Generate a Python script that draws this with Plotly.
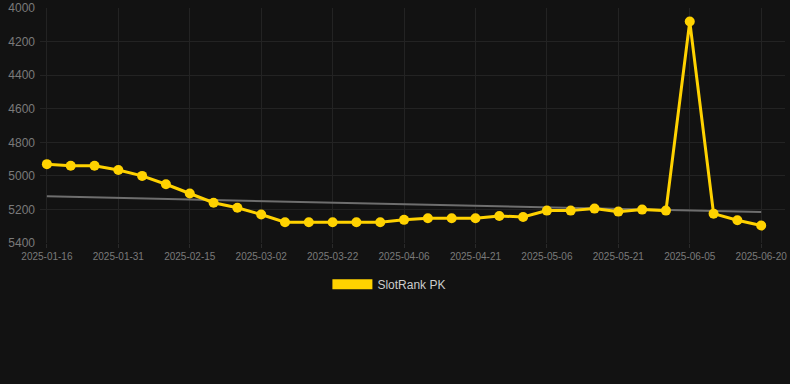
import plotly.graph_objects as go

dates = ["2025-01-16", "2025-01-21", "2025-01-26", "2025-01-31", "2025-02-05", "2025-02-10",
         "2025-02-15", "2025-02-20", "2025-02-25", "2025-03-02", "2025-03-07", "2025-03-12",
         "2025-03-22", "2025-03-27", "2025-04-01", "2025-04-06", "2025-04-11", "2025-04-16",
         "2025-04-21", "2025-04-26", "2025-05-01", "2025-05-06", "2025-05-11", "2025-05-16",
         "2025-05-21", "2025-05-26", "2025-05-31", "2025-06-05", "2025-06-10", "2025-06-15",
         "2025-06-20"]
rank = [4930, 4940, 4940, 4965, 5000, 5050, 5105, 5160, 5190, 5230, 5276, 5276,
        5276, 5276, 5276, 5262, 5252, 5252, 5252, 5239, 5245, 5207, 5207, 5195,
        5213, 5201, 5207, 4080, 5225, 5264, 5296]
trend_dates = [dates[0], dates[-1]]
trend_vals = [5122, 5215]
tick_labels = dates[::3]
y_ticks = [4000, 4200, 4400, 4600, 4800, 5000, 5200, 5400]
series_name = "SlotRank PK"

gold = "#FFD200"
bg = "#121212"
grid = "#232323"

fig = go.Figure()
fig.add_trace(go.Scatter(x=trend_dates, y=trend_vals, mode="lines",
                         line=dict(color="#6e6e6e", width=2), showlegend=False, hoverinfo="skip"))
fig.add_trace(go.Scatter(x=dates, y=rank, mode="lines+markers",
                         line=dict(color=gold, width=3),
                         marker=dict(color=gold, size=10),
                         showlegend=False, name=series_name))
fig.add_trace(go.Scatter(x=[None], y=[None], mode="lines", name=series_name,
                         line=dict(color=gold, width=12), showlegend=True))

fig.update_layout(
    width=790, height=384,
    margin=dict(l=40, r=5, t=8, b=141, autoexpand=False),
    paper_bgcolor=bg, plot_bgcolor=bg,
    font=dict(family="Liberation Sans, Arial, sans-serif", color="#7a7a7a"),
    showlegend=True,
    legend=dict(orientation="h", x=0.469, xanchor="center", y=-0.175, yanchor="middle",
                font=dict(size=12, color="#cccccc"), itemwidth=40, bgcolor="rgba(0,0,0,0)"),
)
fig.update_xaxes(type="category", categoryorder="array", categoryarray=dates,
                 range=[-0.29, 31.0], tickmode="array", tickvals=tick_labels, ticktext=tick_labels,
                 showgrid=True, gridcolor=grid, gridwidth=1, zeroline=False, showline=False,
                 ticks="outside", ticklen=4, tickcolor="#2a2a2a",
                 tickfont=dict(size=10, color="#7a7a7a"))
fig.update_yaxes(range=[5400, 3999.5], tickmode="array", tickvals=y_ticks,
                 showgrid=True, gridcolor=grid, gridwidth=1, zeroline=False, showline=False,
                 tickfont=dict(size=12, color="#7a7a7a"), ticklabelstandoff=4)

fig.write_html("out.html", config={"displayModeBar": False},
               post_script="document.body.style.margin='0';")
